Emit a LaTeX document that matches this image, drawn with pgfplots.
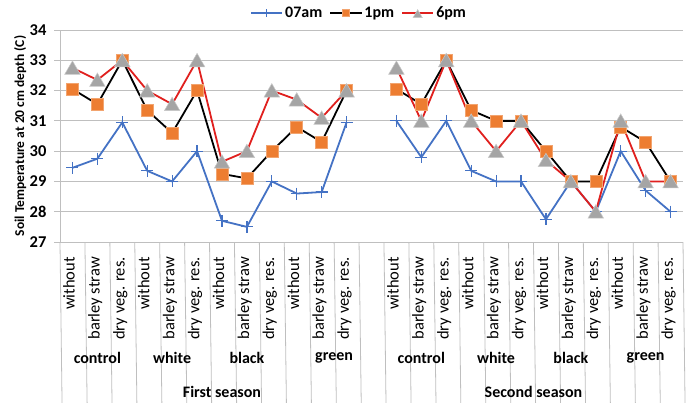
\documentclass[border=0pt]{standalone}
\usepackage{fontspec}
\setmainfont{Carlito}
\usepackage{pgfplots}
\pgfplotsset{compat=1.18}

\definecolor{amblue}{HTML}{4472C4}
\definecolor{pmorange}{HTML}{ED7D31}
\definecolor{evred}{HTML}{E0201E}
\definecolor{trigray}{HTML}{A5A5A5}
\definecolor{sepgray}{HTML}{BFBFBF}

\begin{document}
\begin{tikzpicture}
\useasboundingbox (0,0) rectangle (688pt,403pt);
\begin{axis}[
  at={(60pt,161pt)}, anchor=south west,
  width=623pt, height=212pt, scale only axis,
  xmin=-0.5, xmax=24.5, ymin=27, ymax=34,
  clip=false,
  unbounded coords=jump,
  axis lines*=left,
  axis line style={sepgray, line width=0.8pt, -},
  ymajorgrids, grid style={sepgray, line width=0.8pt},
  ytick={27,...,34},
  ytick style={sepgray, line width=0.8pt},
  tick align=outside, major tick length=6pt,
  xtick style={draw=none},
  /pgf/number format/assume math mode=true,
  yticklabel style={font=\bfseries\fontsize{16.5}{16.5}\selectfont, xshift=-4pt},
  xtick={0,...,11,13,14,...,24},
  xticklabels={without,barley straw,dry veg. res.,without,barley straw,dry veg. res.,
               without,barley straw,dry veg. res.,without,barley straw,dry veg. res.,
               without,barley straw,dry veg. res.,without,barley straw,dry veg. res.,
               without,barley straw,dry veg. res.,without,barley straw,dry veg. res.},
  xticklabel style={rotate=90, anchor=east, inner sep=0pt,
                    font=\fontsize{16.5}{16.5}\selectfont, text height=1.2ex, text depth=0.25ex},
  xticklabel shift=9pt,
  ylabel={Soil Temperature at 20 cm depth (C)},
  ylabel style={at={(rel axis cs:-0.064,0.5)}, anchor=center,
                font=\bfseries\fontsize{13.5}{13.5}\selectfont},
  legend columns=3,
  legend style={draw=none, fill=none, at={(0.48,1.08)}, anchor=center,
                font=\bfseries\fontsize{16}{16}\selectfont,
                /tikz/every even column/.append style={column sep=5pt}},
  legend image code/.code={\draw[mark repeat=2, mark phase=2, #1,
      every mark/.append style={scale=0.6}]
      plot coordinates {(0cm,0cm) (0.55cm,0cm) (1.1cm,0cm)};},
]

% separators below the category axis: treatments, colour groups, seasons
\pgfplotsinvokeforeach{0.5,1.5,3.5,4.5,6.5,7.5,9.5,10.5,11.5,13.5,14.5,16.5,17.5,19.5,20.5,22.5,23.5}{
  \draw[sepgray, line width=0.8pt] (axis cs:#1,27) -- ++(0,-96pt);
}
\pgfplotsinvokeforeach{2.5,5.5,8.5,15.5,18.5,21.5}{
  \draw[sepgray, line width=0.8pt] (axis cs:#1,27) -- ++(0,-128pt);
}
\pgfplotsinvokeforeach{-0.5,12.5,24.5}{
  \draw[sepgray, line width=0.8pt] (axis cs:#1,27) -- ++(0,-160pt);
}

% colour-group and season labels
\begin{scope}[every node/.style={font=\bfseries\fontsize{16}{16}\selectfont}]
\node at (axis cs:1,27)    [yshift=-116pt] {control};
\node at (axis cs:4,27)    [yshift=-116pt] {white};
\node at (axis cs:7,27)    [yshift=-116pt] {black};
\node at (axis cs:10.5,27) [yshift=-116pt] {green};
\node at (axis cs:14,27)   [yshift=-116pt] {control};
\node at (axis cs:17,27)   [yshift=-116pt] {white};
\node at (axis cs:20,27)   [yshift=-116pt] {black};
\node at (axis cs:23,27)   [yshift=-116pt] {green};
\node at (axis cs:6,27)    [yshift=-150pt] {First season};
\node at (axis cs:18.5,27) [yshift=-150pt] {Second season};
\end{scope}

\addplot[amblue, line width=1.8pt, mark=+, mark size=6pt,
         mark options={line width=1.2pt}] coordinates {
  (0,29.45) (1,29.75) (2,30.95) (3,29.35) (4,29.0) (5,30.0)
  (6,27.7) (7,27.5) (8,29.0) (9,28.6) (10,28.65) (11,30.95)
  (12,nan)
  (13,31.0) (14,29.8) (15,31.0) (16,29.35) (17,29.0) (18,29.0)
  (19,27.75) (20,29.0) (21,28.0) (22,30.0) (23,28.7) (24,28.0)
};
\addlegendentry{07am}

\addplot[black, line width=1.8pt, mark=square*, mark size=6pt,
         mark options={fill=pmorange, draw=pmorange!70!white, line width=0.5pt}] coordinates {
  (0,32.05) (1,31.55) (2,33.0) (3,31.35) (4,30.6) (5,32.0)
  (6,29.25) (7,29.1) (8,30.0) (9,30.8) (10,30.3) (11,32.0)
  (12,nan)
  (13,32.05) (14,31.55) (15,33.0) (16,31.35) (17,31.0) (18,31.0)
  (19,30.0) (20,29.0) (21,29.0) (22,30.8) (23,30.3) (24,29.0)
};
\addlegendentry{1pm}

% triangles are centred on their box, so drop them by a sixth of their height
\addplot[evred, line width=1.8pt, mark=triangle*, mark size=9pt,
         mark options={fill=trigray, draw=trigray!60!white, line width=0.5pt, yshift=-2pt}] coordinates {
  (0,32.75) (1,32.35) (2,33.0) (3,32.0) (4,31.55) (5,33.0)
  (6,29.65) (7,30.0) (8,32.0) (9,31.7) (10,31.1) (11,32.0)
  (12,nan)
  (13,32.75) (14,31.0) (15,33.0) (16,31.0) (17,30.0) (18,31.0)
  (19,29.7) (20,29.0) (21,28.0) (22,31.0) (23,29.0) (24,29.0)
};
\addlegendentry{6pm}

\end{axis}
\end{tikzpicture}
\end{document}
